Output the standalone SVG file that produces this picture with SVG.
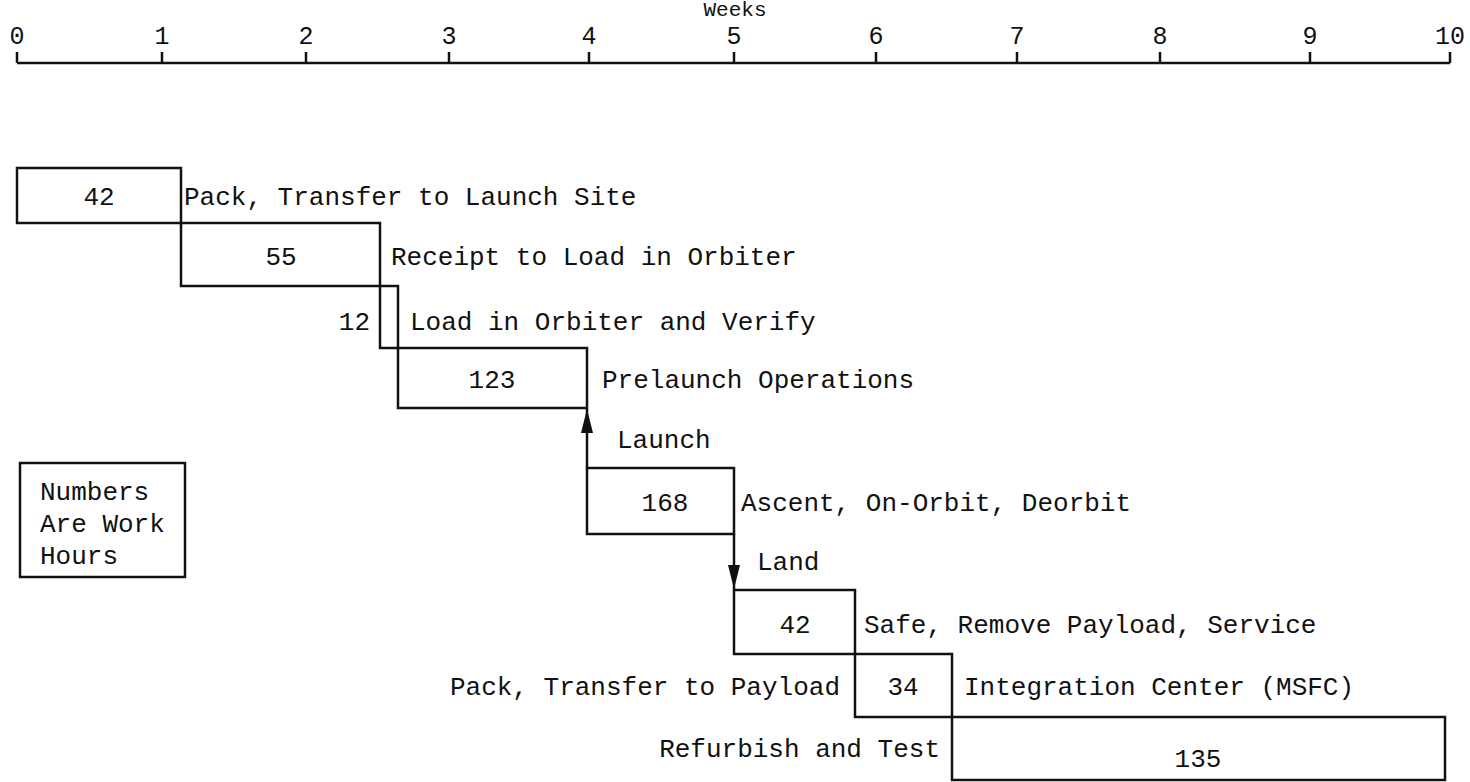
<svg xmlns="http://www.w3.org/2000/svg" width="1470" height="782" viewBox="0 0 1470 782">
<style>
text{font-family:"Liberation Mono","DejaVu Sans Mono",monospace;font-size:26px;fill:#111}
.box{fill:none;stroke:#111;stroke-width:2.5}
.ax{stroke:#111;stroke-width:2.5;fill:none}
.num{text-anchor:middle}
.end{text-anchor:end}
.axl{text-anchor:middle;font-size:25px}
.conn{stroke:#111;stroke-width:2.5;fill:none}
</style>
<defs>
<marker id="arr" markerWidth="24" markerHeight="12" refX="24" refY="6" orient="auto" markerUnits="userSpaceOnUse" viewBox="0 0 24 12">
<path d="M0,0 L24,6 L0,12 Z" fill="#111"/>
</marker>
</defs>
<rect width="1470" height="782" fill="#fff"/>
<g id="axis">
<text x="735" y="16" class="axl" style="font-size:21px">Weeks</text>
<path class="ax" d="M17,63 H1450 M17,63 V52 M162,63 V52 M306,63 V52 M449,63 V52 M589,63 V52 M734,63 V52 M876,63 V52 M1017,63 V52 M1160,63 V52 M1310,63 V52 M1450,63 V52"/>
<text x="17" y="44" class="axl">0</text>
<text x="162" y="44" class="axl">1</text>
<text x="306" y="44" class="axl">2</text>
<text x="449" y="44" class="axl">3</text>
<text x="589" y="44" class="axl">4</text>
<text x="734" y="44" class="axl">5</text>
<text x="876" y="44" class="axl">6</text>
<text x="1017" y="44" class="axl">7</text>
<text x="1160" y="44" class="axl">8</text>
<text x="1310" y="44" class="axl">9</text>
<text x="1450" y="44" class="axl">10</text>
</g>
<g id="n1">
<rect class="box" x="17" y="168" width="164" height="55"/>
<text x="99" y="205" class="num">42</text>
<text x="184" y="205">Pack, Transfer to Launch Site</text>
</g>
<g id="n2">
<rect class="box" x="181" y="223" width="199" height="63"/>
<text x="281" y="265" class="num">55</text>
<text x="391" y="265">Receipt to Load in Orbiter</text>
</g>
<g id="n3">
<rect class="box" x="380" y="286" width="18" height="62"/>
<text x="370" y="330" class="end">12</text>
<text x="410" y="330">Load in Orbiter and Verify</text>
</g>
<g id="n4">
<rect class="box" x="398" y="348" width="189" height="60"/>
<text x="492" y="388" class="num">123</text>
<text x="602" y="388">Prelaunch Operations</text>
</g>
<g id="n5">
<text x="617" y="448">Launch</text>
<rect class="box" x="587" y="468" width="147" height="66"/>
<text x="665" y="511" class="num">168</text>
<text x="741" y="511">Ascent, On-Orbit, Deorbit</text>
</g>
<g id="n6">
<text x="757" y="570">Land</text>
<rect class="box" x="734" y="590" width="121" height="64"/>
<text x="795" y="633" class="num">42</text>
<text x="864" y="633">Safe, Remove Payload, Service</text>
</g>
<g id="n7">
<text x="840" y="695" class="end">Pack, Transfer to Payload</text>
<rect class="box" x="855" y="654" width="97" height="63"/>
<text x="903" y="695" class="num">34</text>
<text x="964" y="695">Integration Center (MSFC)</text>
</g>
<g id="n8">
<text x="940" y="757" class="end">Refurbish and Test</text>
<rect class="box" x="952" y="717" width="493" height="63"/>
<text x="1198" y="767" class="num">135</text>
</g>
<g id="legend">
<rect class="box" x="20" y="463" width="165" height="114"/>
<text x="40" y="500">Numbers</text>
<text x="40" y="532">Are Work</text>
<text x="40" y="564">Hours</text>
</g>
<g id="connectors">
<line class="conn" x1="587" y1="468" x2="587" y2="409" marker-end="url(#arr)"/>
<line class="conn" x1="734" y1="534" x2="734" y2="589" marker-end="url(#arr)"/>
</g>
</svg>
